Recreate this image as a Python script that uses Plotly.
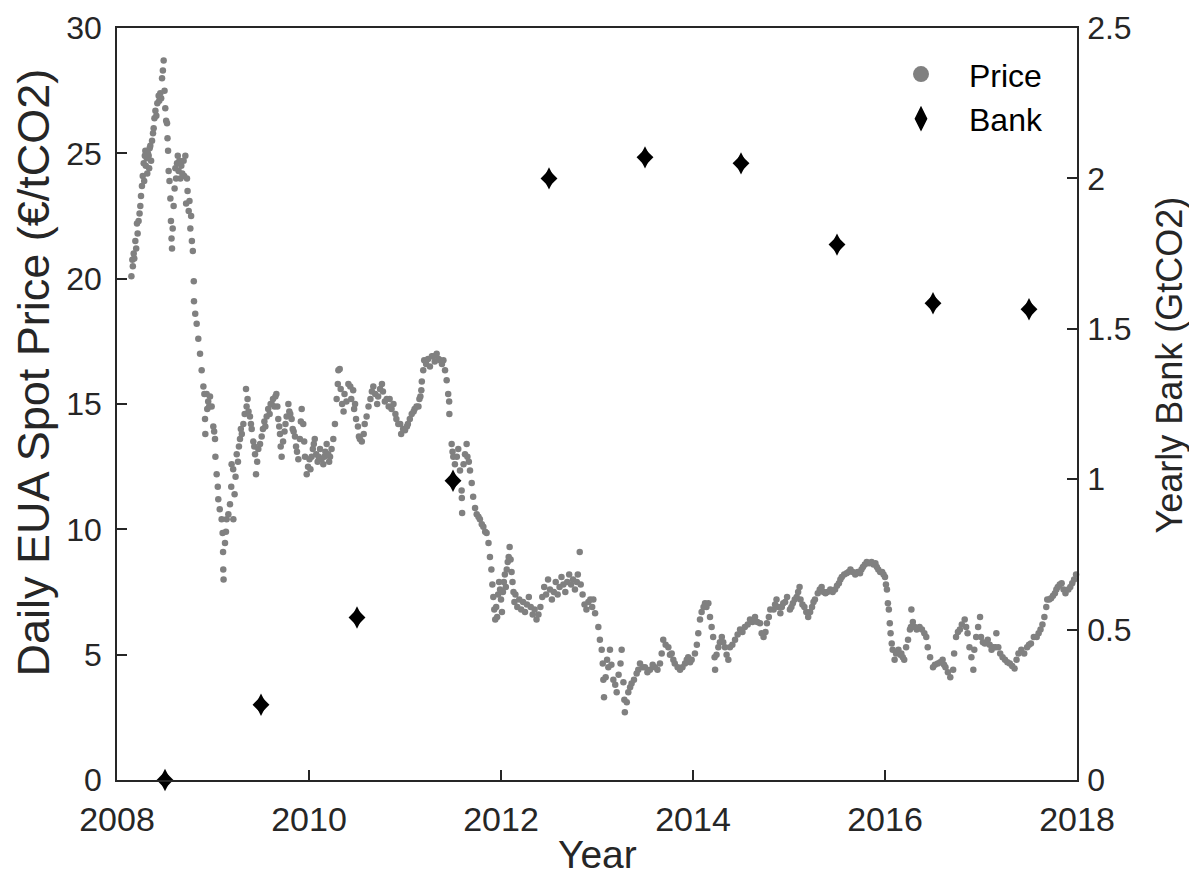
import plotly.graph_objects as go

# ---- Daily EUA spot price (year as decimal, EUR/tCO2) ----
price_2008 = [
    (2008.150, 20.1), (2008.160, 20.75), (2008.165, 20.5), (2008.174, 21.0), (2008.180, 20.8),
    (2008.191, 21.5), (2008.200, 21.2), (2008.208, 22.2), (2008.215, 21.8), (2008.225, 22.3),
    (2008.235, 22.6), (2008.243, 22.9), (2008.250, 23.3), (2008.260, 23.7), (2008.268, 24.1),
    (2008.278, 24.6), (2008.283, 23.9), (2008.290, 24.9), (2008.295, 25.1), (2008.300, 24.5),
    (2008.310, 24.8), (2008.315, 24.2), (2008.322, 25.0), (2008.330, 24.9), (2008.335, 24.4),
    (2008.340, 25.2), (2008.347, 25.3), (2008.355, 24.7), (2008.365, 25.5), (2008.375, 25.8),
    (2008.382, 26.0), (2008.390, 26.4), (2008.400, 26.7), (2008.410, 26.5), (2008.420, 27.0),
    (2008.434, 27.3), (2008.440, 27.1), (2008.451, 27.4), (2008.460, 27.2), (2008.469, 28.0),
    (2008.478, 28.3), (2008.486, 28.7), (2008.495, 27.5), (2008.503, 26.8), (2008.512, 26.3),
    (2008.521, 26.2), (2008.526, 25.6), (2008.532, 25.1), (2008.538, 24.3), (2008.547, 23.9),
    (2008.556, 23.2), (2008.562, 22.3), (2008.568, 21.6), (2008.573, 21.2), (2008.580, 22.0),
    (2008.590, 22.9), (2008.600, 23.6), (2008.608, 24.4), (2008.615, 24.0), (2008.625, 24.6),
    (2008.633, 24.9), (2008.642, 24.3), (2008.650, 24.7), (2008.660, 24.0), (2008.670, 24.5),
    (2008.680, 24.2), (2008.694, 24.7), (2008.700, 24.1), (2008.712, 24.9), (2008.720, 23.0),
    (2008.729, 24.0), (2008.735, 23.5), (2008.747, 22.7), (2008.755, 23.1), (2008.764, 22.0),
    (2008.772, 22.5), (2008.780, 21.5), (2008.790, 21.1), (2008.800, 19.9), (2008.802, 19.1),
    (2008.815, 18.6), (2008.830, 18.2), (2008.847, 17.6), (2008.865, 17.0), (2008.882, 16.35),
    (2008.900, 15.7), (2008.910, 15.4), (2008.917, 14.4), (2008.920, 13.8), (2008.934, 15.4),
    (2008.940, 14.8), (2008.950, 15.1), (2008.960, 14.9), (2008.969, 15.3), (2008.986, 14.9),
]
price_2009 = [
    (2009.003, 14.1), (2009.012, 13.9), (2009.021, 13.6), (2009.025, 12.9), (2009.038, 12.2),
    (2009.050, 11.7), (2009.055, 11.2), (2009.070, 10.8), (2009.090, 10.4), (2009.100, 9.85),
    (2009.105, 9.1), (2009.107, 8.4), (2009.110, 8.0), (2009.125, 9.45), (2009.135, 9.9),
    (2009.142, 10.4), (2009.160, 10.6), (2009.177, 11.0), (2009.190, 11.7), (2009.194, 12.6),
    (2009.210, 12.4), (2009.212, 10.4), (2009.225, 11.4), (2009.235, 12.1), (2009.247, 13.0),
    (2009.260, 12.7), (2009.270, 13.3), (2009.281, 13.6), (2009.290, 14.0), (2009.300, 13.8),
    (2009.316, 14.2), (2009.330, 14.6), (2009.344, 15.6), (2009.350, 14.9), (2009.360, 15.2),
    (2009.370, 14.7), (2009.385, 14.5), (2009.395, 14.2), (2009.403, 14.0), (2009.420, 13.5),
    (2009.430, 13.3), (2009.438, 13.0), (2009.448, 12.2), (2009.460, 12.7), (2009.472, 13.2),
    (2009.490, 13.4), (2009.507, 13.7), (2009.520, 14.0), (2009.535, 14.3), (2009.545, 14.1),
    (2009.559, 14.5), (2009.575, 14.8), (2009.590, 14.6), (2009.600, 15.0), (2009.611, 15.0),
    (2009.625, 15.2), (2009.640, 14.9), (2009.650, 15.3), (2009.660, 15.4), (2009.670, 14.9),
    (2009.680, 14.4), (2009.690, 14.1), (2009.698, 13.8), (2009.705, 13.3), (2009.715, 12.9),
    (2009.730, 13.5), (2009.745, 13.9), (2009.755, 14.2), (2009.767, 14.5), (2009.785, 15.0),
    (2009.795, 14.7), (2009.805, 14.6), (2009.819, 14.4), (2009.830, 14.0), (2009.840, 13.9),
    (2009.854, 13.7), (2009.865, 13.3), (2009.875, 13.1), (2009.889, 12.8), (2009.905, 13.6),
    (2009.915, 14.3), (2009.924, 14.8), (2009.940, 14.2), (2009.950, 13.5), (2009.958, 12.9),
    (2009.976, 12.2), (2009.990, 12.5),
]
price_2010 = [
    (2010.005, 12.8), (2010.015, 12.4), (2010.027, 12.9), (2010.040, 13.2), (2010.050, 13.4),
    (2010.060, 13.6), (2010.075, 13.0), (2010.090, 12.7), (2010.100, 12.9), (2010.115, 13.2),
    (2010.130, 12.8), (2010.149, 12.6), (2010.160, 12.9), (2010.170, 13.1), (2010.184, 13.4),
    (2010.200, 13.0), (2010.210, 12.7), (2010.219, 12.9), (2010.235, 13.2), (2010.253, 13.6),
    (2010.270, 14.2), (2010.288, 15.2), (2010.300, 15.8), (2010.306, 16.35), (2010.320, 16.4),
    (2010.330, 15.6), (2010.345, 15.0), (2010.360, 14.7), (2010.370, 15.4), (2010.390, 15.1),
    (2010.410, 15.8), (2010.430, 15.7), (2010.440, 15.2), (2010.460, 15.55), (2010.470, 14.8),
    (2010.480, 15.0), (2010.490, 14.4), (2010.510, 14.1), (2010.520, 13.7), (2010.530, 13.6),
    (2010.550, 13.5), (2010.570, 13.8), (2010.580, 14.2), (2010.600, 14.5), (2010.620, 14.9),
    (2010.640, 15.2), (2010.655, 15.5), (2010.670, 15.7), (2010.690, 15.4), (2010.710, 15.0),
    (2010.720, 15.3), (2010.740, 15.6), (2010.760, 15.8), (2010.770, 15.5), (2010.790, 15.1),
    (2010.810, 15.2), (2010.830, 14.9), (2010.840, 15.2), (2010.860, 14.8), (2010.880, 15.0),
    (2010.900, 14.6), (2010.910, 14.4), (2010.930, 14.2), (2010.950, 14.2), (2010.960, 13.8),
    (2010.980, 14.0),
]
price_2011 = [
    (2011.000, 13.95), (2011.020, 14.1), (2011.030, 14.2), (2011.050, 14.4), (2011.070, 14.6),
    (2011.090, 14.7), (2011.100, 14.8), (2011.120, 14.9), (2011.140, 14.9), (2011.150, 15.2),
    (2011.160, 15.3), (2011.170, 15.55), (2011.175, 15.9), (2011.190, 16.35), (2011.200, 16.75),
    (2011.220, 16.6), (2011.240, 16.8), (2011.260, 16.5), (2011.280, 16.9), (2011.295, 16.9),
    (2011.310, 16.7), (2011.330, 17.0), (2011.350, 16.8), (2011.365, 16.75), (2011.385, 16.6),
    (2011.400, 16.75), (2011.417, 16.35), (2011.434, 15.95), (2011.450, 15.4), (2011.460, 15.1),
    (2011.462, 14.6), (2011.486, 13.4), (2011.495, 13.1), (2011.503, 12.9), (2011.520, 12.6),
    (2011.540, 12.9), (2011.555, 13.2), (2011.573, 12.35), (2011.590, 11.55), (2011.592, 11.25),
    (2011.595, 10.65), (2011.610, 12.6), (2011.625, 13.0), (2011.642, 13.4), (2011.650, 12.9),
    (2011.665, 12.7), (2011.677, 12.35), (2011.695, 11.85), (2011.710, 11.3), (2011.730, 10.85),
    (2011.747, 10.6), (2011.765, 10.5), (2011.780, 10.4), (2011.800, 10.2), (2011.816, 10.1),
    (2011.835, 9.9), (2011.850, 9.85), (2011.870, 9.45), (2011.885, 8.9), (2011.900, 8.4),
    (2011.910, 7.8), (2011.920, 7.3), (2011.930, 6.8), (2011.940, 6.4), (2011.950, 6.9),
    (2011.960, 6.5), (2011.970, 7.4), (2011.980, 7.9), (2011.990, 7.6),
]
price_2012 = [
    (2012.000, 7.2), (2012.010, 6.7), (2012.020, 7.5), (2012.030, 7.9), (2012.040, 8.2),
    (2012.050, 7.7), (2012.060, 8.4), (2012.070, 8.7), (2012.080, 8.9), (2012.090, 9.3),
    (2012.100, 8.8), (2012.110, 8.3), (2012.120, 7.9), (2012.130, 7.5), (2012.140, 7.1),
    (2012.150, 7.4), (2012.170, 6.9), (2012.190, 7.2), (2012.210, 6.8), (2012.230, 7.1),
    (2012.250, 6.7), (2012.270, 7.0), (2012.290, 7.3), (2012.310, 6.9), (2012.330, 6.6),
    (2012.350, 6.8), (2012.370, 6.4), (2012.390, 6.6), (2012.410, 6.9), (2012.430, 7.3),
    (2012.450, 7.7), (2012.470, 7.4), (2012.490, 8.0), (2012.510, 7.6), (2012.530, 7.2),
    (2012.550, 7.5), (2012.570, 7.9), (2012.590, 7.4), (2012.610, 7.7), (2012.630, 8.1),
    (2012.650, 7.8), (2012.670, 7.5), (2012.690, 7.9), (2012.710, 8.2), (2012.730, 7.8),
    (2012.750, 8.0), (2012.770, 7.6), (2012.790, 7.9), (2012.800, 8.2), (2012.820, 9.1),
    (2012.830, 7.8), (2012.850, 7.4), (2012.870, 7.0), (2012.890, 6.8), (2012.910, 7.1),
    (2012.930, 7.2), (2012.950, 6.9), (2012.962, 7.2), (2012.980, 6.65),
]
price_2013 = [
    (2013.014, 6.1), (2013.030, 5.6), (2013.049, 5.2), (2013.060, 4.65), (2013.066, 4.0),
    (2013.073, 3.3), (2013.090, 4.1), (2013.105, 4.8), (2013.118, 4.5), (2013.135, 5.2),
    (2013.150, 4.6), (2013.170, 4.0), (2013.190, 3.8), (2013.205, 3.5), (2013.225, 4.2),
    (2013.245, 4.65), (2013.257, 5.2), (2013.275, 3.9), (2013.285, 3.2), (2013.290, 2.7),
    (2013.310, 3.1), (2013.326, 3.5), (2013.345, 3.7), (2013.360, 3.85), (2013.385, 4.0),
    (2013.413, 4.25), (2013.430, 4.4), (2013.448, 4.65), (2013.475, 4.5), (2013.500, 4.5),
    (2013.525, 4.3), (2013.552, 4.4), (2013.580, 4.6), (2013.604, 4.5), (2013.630, 4.4),
    (2013.656, 4.65), (2013.674, 5.05), (2013.690, 5.6), (2013.715, 5.4), (2013.743, 5.3),
    (2013.760, 5.0), (2013.778, 5.05), (2013.795, 4.8), (2013.810, 4.65), (2013.840, 4.5),
    (2013.865, 4.4), (2013.890, 4.5), (2013.917, 4.65), (2013.935, 4.8), (2013.950, 4.9),
    (2013.970, 4.7), (2013.986, 4.8),
]
price_2014 = [
    (2014.020, 5.05), (2014.040, 5.4), (2014.055, 5.85), (2014.073, 6.4), (2014.090, 6.7),
    (2014.110, 6.9), (2014.125, 7.05), (2014.140, 6.9), (2014.160, 7.05), (2014.177, 6.5),
    (2014.194, 6.1), (2014.210, 5.7), (2014.225, 4.9), (2014.230, 4.4), (2014.245, 5.0),
    (2014.264, 5.3), (2014.280, 5.5), (2014.300, 5.7), (2014.315, 5.5), (2014.333, 5.3),
    (2014.350, 5.0), (2014.368, 4.8), (2014.385, 5.3), (2014.410, 5.4), (2014.438, 5.6),
    (2014.465, 5.8), (2014.490, 6.0), (2014.515, 5.9), (2014.540, 6.1), (2014.570, 6.2),
    (2014.594, 6.4), (2014.620, 6.3), (2014.646, 6.5), (2014.670, 6.3), (2014.698, 6.25),
    (2014.715, 5.85), (2014.735, 5.7), (2014.755, 5.9), (2014.770, 6.25), (2014.790, 6.5),
    (2014.805, 6.8), (2014.840, 6.8), (2014.855, 7.0), (2014.870, 7.2), (2014.890, 6.9),
    (2014.910, 6.65), (2014.925, 6.9), (2014.940, 7.05), (2014.960, 7.1), (2014.980, 7.3),
]
price_2015 = [
    (2015.010, 6.8), (2015.025, 6.9), (2015.040, 7.05), (2015.060, 7.2), (2015.080, 7.3),
    (2015.095, 7.5), (2015.110, 7.7), (2015.120, 7.2), (2015.140, 7.0), (2015.160, 6.9),
    (2015.180, 6.7), (2015.200, 6.5), (2015.220, 6.7), (2015.240, 6.9), (2015.255, 7.1),
    (2015.270, 7.2), (2015.300, 7.45), (2015.320, 7.6), (2015.340, 7.7), (2015.360, 7.5),
    (2015.380, 7.45), (2015.400, 7.5), (2015.430, 7.6), (2015.455, 7.5), (2015.480, 7.6),
    (2015.500, 7.75), (2015.520, 7.85), (2015.535, 8.0), (2015.550, 8.1), (2015.575, 8.2),
    (2015.600, 8.25), (2015.620, 8.3), (2015.640, 8.4), (2015.665, 8.3), (2015.690, 8.2),
    (2015.715, 8.3), (2015.740, 8.25), (2015.755, 8.4), (2015.770, 8.5), (2015.790, 8.6),
    (2015.810, 8.7), (2015.835, 8.65), (2015.860, 8.7), (2015.880, 8.6), (2015.900, 8.65),
    (2015.915, 8.5), (2015.930, 8.4), (2015.950, 8.3), (2015.970, 8.3), (2015.985, 8.2),
]
price_2016 = [
    (2016.000, 8.1), (2016.010, 7.8), (2016.020, 7.6), (2016.030, 7.05), (2016.040, 6.8),
    (2016.050, 6.25), (2016.058, 5.85), (2016.070, 5.45), (2016.080, 5.2), (2016.100, 4.8),
    (2016.115, 5.05), (2016.130, 5.1), (2016.140, 5.2), (2016.160, 5.0), (2016.170, 5.05),
    (2016.185, 4.9), (2016.200, 4.8), (2016.220, 5.3), (2016.240, 5.6), (2016.260, 6.0),
    (2016.270, 6.1), (2016.275, 6.8), (2016.290, 6.3), (2016.310, 6.1), (2016.330, 6.0),
    (2016.360, 6.1), (2016.385, 6.0), (2016.410, 5.85), (2016.430, 5.7), (2016.445, 5.3),
    (2016.470, 4.9), (2016.500, 4.5), (2016.520, 4.6), (2016.550, 4.65), (2016.575, 4.7),
    (2016.600, 4.8), (2016.615, 4.6), (2016.630, 4.5), (2016.655, 4.3), (2016.680, 4.1),
    (2016.710, 4.4), (2016.720, 5.05), (2016.740, 5.7), (2016.760, 5.9), (2016.780, 6.0),
    (2016.800, 6.2), (2016.830, 6.4), (2016.845, 6.1), (2016.860, 5.85), (2016.880, 5.3),
    (2016.900, 4.9), (2016.920, 4.4), (2016.930, 5.2), (2016.950, 5.7), (2016.970, 6.1),
    (2016.990, 6.5),
]
price_2017 = [
    (2017.000, 5.7), (2017.020, 5.5), (2017.040, 5.45), (2017.070, 5.6), (2017.090, 5.4),
    (2017.110, 5.2), (2017.130, 5.3), (2017.150, 5.3), (2017.160, 5.85), (2017.180, 5.3),
    (2017.200, 5.05), (2017.225, 4.9), (2017.250, 4.8), (2017.275, 4.7), (2017.300, 4.65),
    (2017.325, 4.55), (2017.350, 4.45), (2017.370, 4.8), (2017.390, 5.05), (2017.420, 5.2),
    (2017.450, 5.05), (2017.480, 5.3), (2017.500, 5.4), (2017.520, 5.45), (2017.550, 5.7),
    (2017.580, 5.7), (2017.600, 5.85), (2017.620, 6.0), (2017.640, 6.2), (2017.660, 6.5),
    (2017.680, 6.9), (2017.690, 7.2), (2017.710, 7.2), (2017.730, 7.25), (2017.750, 7.35),
    (2017.770, 7.45), (2017.785, 7.6), (2017.800, 7.7), (2017.820, 7.8), (2017.840, 7.85),
    (2017.860, 7.6), (2017.880, 7.45), (2017.910, 7.6), (2017.930, 7.7), (2017.950, 7.85),
    (2017.970, 8.0), (2017.990, 8.2),
]

# ---- Yearly bank (GtCO2) ----
bank_year = [2008.5, 2009.5, 2010.5, 2011.5, 2012.5, 2013.5, 2014.5, 2015.5, 2016.5, 2017.5]
bank_val = [0.0, 0.25, 0.54, 0.995, 2.0, 2.07, 2.05, 1.78, 1.585, 1.565]

x_ticks = [2008, 2010, 2012, 2014, 2016, 2018]
y_ticks = [0, 5, 10, 15, 20, 25, 30]
y2_ticks = [0, 0.5, 1, 1.5, 2, 2.5]
y2_labels = ["0", "0.5", "1", "1.5", "2", "2.5"]

all_price = (price_2008 + price_2009 + price_2010 + price_2011 + price_2012 +
             price_2013 + price_2014 + price_2015 + price_2016 + price_2017)
price_year = [p[0] for p in all_price]
price_val = [p[1] for p in all_price]

FONT = "Liberation Sans, Arial, Helvetica, sans-serif"
AX = "#262626"
GRAY = "#808080"

fig = go.Figure()
fig.add_trace(go.Scatter(
    x=price_year, y=price_val, mode="markers", name="Price", showlegend=False,
    marker=dict(color=GRAY, size=6.5, line=dict(width=0)),
    yaxis="y", cliponaxis=False,
))
# bank markers: a tall diamond plus a square diamond at the same points,
# together giving the slightly elongated diamond of the original
fig.add_trace(go.Scatter(
    x=bank_year, y=bank_val, mode="markers", name="Bank", showlegend=False,
    marker=dict(color="black", symbol="diamond", size=13, line=dict(width=0)),
    yaxis="y2", cliponaxis=False,
))
fig.add_trace(go.Scatter(
    x=bank_year, y=bank_val, mode="markers", name="Bank", showlegend=False,
    marker=dict(color="black", symbol="diamond-tall", size=16, line=dict(width=0)),
    yaxis="y2", cliponaxis=False,
))
# legend entries
fig.add_trace(go.Scatter(
    x=[None], y=[None], mode="markers", name="Price",
    marker=dict(color=GRAY, size=16, line=dict(width=0)),
))
fig.add_trace(go.Scatter(
    x=[None], y=[None], mode="markers", name="Bank",
    marker=dict(color="black", symbol="diamond-tall", size=16, line=dict(color="black", width=1.5)),
))

tick_common = dict(showgrid=False, zeroline=False, showline=True, linecolor=AX, linewidth=1.5,
                   ticks="inside", ticklen=10, tickwidth=1.5, tickcolor=AX, automargin=False)

fig.update_layout(
    width=1189, height=875,
    margin=dict(l=109, r=120, t=20, b=103, autoexpand=False),
    paper_bgcolor="white", plot_bgcolor="white",
    font=dict(family=FONT, size=30, color=AX),
    showlegend=True,
    legend=dict(
        x=0.7875, y=0.975, xanchor="left", yanchor="top",
        bgcolor="rgba(0,0,0,0)", borderwidth=0, itemwidth=86,
        font=dict(family=FONT, size=32, color="black"),
    ),
    xaxis=dict(
        range=[2008, 2018], tickvals=x_ticks, ticktext=[str(v) for v in x_ticks],
        mirror=True, tickfont=dict(family=FONT, size=34, color=AX), ticklabelstandoff=8,
        **tick_common,
    ),
    yaxis=dict(
        range=[0, 30], tickvals=y_ticks,
        tickfont=dict(family=FONT, size=32, color=AX), ticklabelstandoff=7,
        **tick_common,
    ),
    yaxis2=dict(
        range=[0, 2.5], tickvals=y2_ticks, ticktext=y2_labels, overlaying="y", side="right",
        tickfont=dict(family=FONT, size=32, color=AX), ticklabelstandoff=2,
        **tick_common,
    ),
    annotations=[
        dict(text="Year", xref="paper", yref="paper", x=0.5, y=-0.0997,
             xanchor="center", yanchor="middle", showarrow=False,
             font=dict(family=FONT, size=39, color=AX)),
        dict(text="Daily EUA Spot Price (€/tCO2)", xref="paper", yref="paper",
             x=-0.0875, y=0.542, xanchor="center", yanchor="middle", textangle=-90,
             showarrow=False, font=dict(family=FONT, size=45, color=AX)),
        dict(text="Yearly Bank (GtCO2)", xref="paper", yref="paper",
             x=1.0965, y=0.552, xanchor="center", yanchor="middle", textangle=-90,
             showarrow=False, font=dict(family=FONT, size=36, color=AX)),
    ],
)

fig.write_html("out.html")
